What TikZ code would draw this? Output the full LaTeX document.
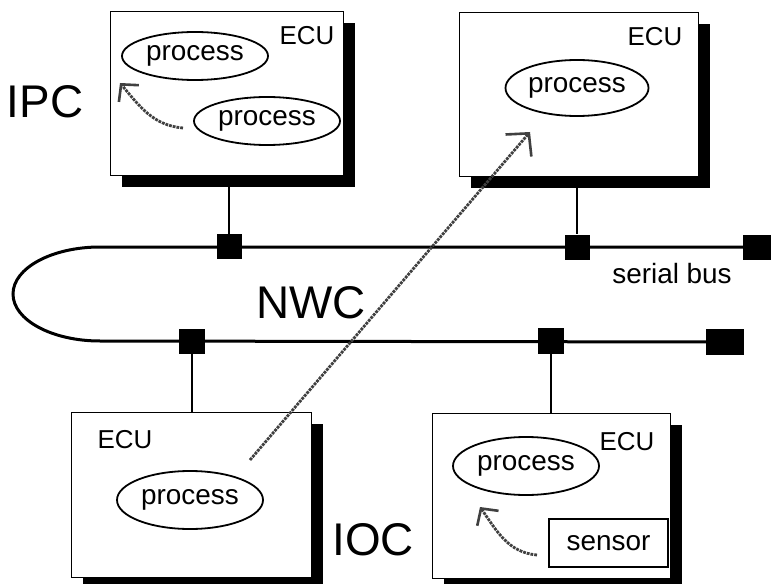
\documentclass[tikz,border=0pt]{standalone}
\usepackage{fontspec}
\setmainfont{Liberation Sans}
\usetikzlibrary{arrows.meta,shapes.geometric,shadows}

\begin{document}
\begin{tikzpicture}[
  x=1bp, y=-1bp,
  ecu/.style={draw, line width=0.8bp, fill=white, inner sep=0,
    drop shadow={fill=black, opacity=1, shadow xshift=12bp, shadow yshift=-12bp}},
  proc/.style={ellipse, draw, line width=1.8bp, fill=white, inner sep=0, minimum width=146bp,
    font=\fontsize{28}{30}\selectfont},
  tap/.style={fill=black, inner sep=0, minimum width=25bp, minimum height=25bp},
  tag/.style={anchor=base, inner sep=0, font=\fontsize{26}{28}\selectfont},
  big/.style={anchor=base, inner sep=0, font=\fontsize{46}{48}\selectfont},
  bus/.style={line width=3bp},
  stub/.style={line width=1.5bp},
  msg/.style={draw=black!75, line width=2.8bp, densely dotted,
    -{Straight Barb[length=12bp, width=26bp, line width=2.6bp]}}
]
  \useasboundingbox (0,0) rectangle (771,584);

  % control units
  \node[ecu, minimum width=233bp, minimum height=164bp] (ecuA) at (226.5,93) {};
  \node[ecu, minimum width=239bp, minimum height=164bp] (ecuB) at (578.5,94) {};
  \node[ecu, minimum width=240bp, minimum height=165bp] (ecuC) at (191,494.5) {};
  \node[ecu, minimum width=238bp, minimum height=165bp] (ecuD) at (551,495.5) {};

  \node[tag] (lblA) at (307,45) {ECU};
  \node[tag] (lblB) at (655,46) {ECU};
  \node[tag] (lblC) at (125,448) {ECU};
  \node[tag] (lblD) at (627,450) {ECU};

  \node[proc, minimum height=48bp] (pA1) at (195,56) {process};
  \node[proc, minimum height=48bp] (pA2) at (267,121) {process};
  \node[proc, minimum width=143bp, minimum height=56bp] (pB) at (577,88) {process};
  \node[proc, minimum height=58bp] (pC) at (190,500) {process};
  \node[proc, minimum height=58bp] (pD) at (526,466) {process};

  \node[draw, line width=1.5bp, fill=white, minimum width=119bp, minimum height=48bp, inner sep=0,
    font=\fontsize{28}{30}\selectfont] (sens) at (608.5,543) {sensor};

  % serial bus
  \node[tap] (tA) at (229,246.5) {};
  \node[tap] (tB) at (577,247) {};
  \node[tap, minimum width=28bp] (tEnd1) at (757,247) {};
  \node[tap, minimum width=26bp] (tC) at (192,341) {};
  \node[tap, minimum width=26bp, minimum height=26bp] (tD) at (551,341) {};
  \node[tap, minimum width=38bp, minimum height=26bp] (tEnd2) at (725,342) {};

  \coordinate (bendTop) at (100,247);
  \coordinate (bendBot) at (100,341);
  \draw[bus] (tEnd1) -- (bendTop)
    .. controls (52,247) and (13,268) .. (13,294)
    .. controls (13,320) and (52,341) .. (bendBot) -- (tEnd2);

  \draw[stub] (ecuA.south -| tA) -- (tA);
  \draw[stub] (ecuB.south -| tB) -- (tB);
  \draw[stub] (ecuC.north -| tC) -- (tC);
  \draw[stub] (ecuD.north -| tD) -- (tD);

  \node[big] (ipc) at (45,118) {IPC};
  \node[big] (nwc) at (311,318) {NWC};
  \node[big] (ioc) at (373,555) {IOC};
  \node[anchor=base, inner sep=0, font=\fontsize{28}{30}\selectfont] (sbus) at (672,283) {serial bus};

  % communication
  \coordinate (ipcFrom) at (183,128);
  \coordinate (ipcTo) at (120,83);
  \draw[msg] (ipcFrom) to[out=175, in=-50] (ipcTo);

  \coordinate (nwcFrom) at (250,460);
  \coordinate (nwcTo) at (530,132);
  \draw[msg, -{Straight Barb[length=16bp, width=34bp, line width=2.6bp]}] (nwcFrom) -- (nwcTo);

  \coordinate (iocFrom) at (537,555);
  \coordinate (iocTo) at (480,507);
  \draw[msg] (iocFrom) to[out=175, in=-55] (iocTo);
\end{tikzpicture}
\end{document}
